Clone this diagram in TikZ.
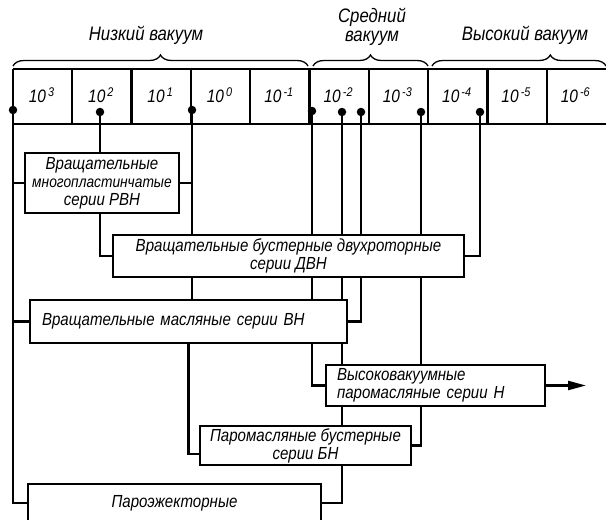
\documentclass[tikz,border=0pt]{standalone}
\usepackage{fontspec}
\setmainfont{Liberation Sans}[FakeStretch=0.86]
\usepackage{tikz}
\usetikzlibrary{positioning}
\usetikzlibrary{arrows.meta}
\usetikzlibrary{decorations.pathreplacing}

\tikzset{
  box/.style={draw, line width=2pt, inner sep=0pt, align=center,
    font=\fontsize{17.5}{18}\selectfont\itshape},
  head/.style={font=\fontsize{19.5}{18.5}\selectfont\itshape, inner sep=0pt},
  scalelbl/.style={font=\fontsize{18}{18}\selectfont\itshape, inner sep=0pt},
  dot/.style={circle, fill, inner sep=0pt, minimum size=8.5pt},
  link/.style={line width=2.3pt},
  vbrace/.style={line width=1.3pt, decorate, decoration={brace, amplitude=11pt}}
}

\begin{document}
\begin{tikzpicture}[x=1pt, y=-1pt]
          \useasboundingbox (0,0) rectangle (606,520);
          \node[head] (low) at (146,35) {Низкий вакуум};
          \node[head, align=center] (mid) at (372,27) {Средний\\вакуум};
          \node[head] (high) at (525,35) {Высокий вакуум};
          \draw[vbrace] (13,66) -- (308,66);
          \draw[vbrace] (313,66) -- (428,66);
          \draw[vbrace, decoration={aspect=0.68}] (432,66) -- (606,66);
          \draw[link] (13,69) -- (606,69) (13,124) -- (606,124);
          \foreach \k in {0,...,9}
            \draw[link] (13+59.3*\k,69) -- (13+59.3*\k,124);
          \foreach \e [count=\i] in {3,2,1,0,-1,-2,-3,-4,-5,-6}
            \node[scalelbl] (c\i) at (13+59.3*\i-30.5,95) {10\textsuperscript{\,\e}};
          \node[dot] (p1) at (13,110){};
          \node[dot] (p2) at (100,112){};
          \node[dot] (p3) at (192,110){};
          \node[dot] (p4) at (312,111){};
          \node[dot] (p5) at (342,112){};
          \node[dot] (p6) at (361,112){};
          \node[dot] (p7) at (421,112){};
          \node[dot] (p8) at (480,112){};
          \node[box, minimum width=154pt, minimum height=60pt] (rvn) at (102,183)
            {Вращательные\\{\fontsize{16}{17}\selectfont многопластинчатые}\\серии РВН};
          \node[box, minimum width=351pt, minimum height=42pt] (dvn) at (288.5,256)
            {Вращательные бустерные двухроторные\\серии ДВН};
          \node[box, text width=293pt, inner xsep=12pt, minimum height=43pt, align=left] (vn) at (188.5,321.5)
            {Вращательные масляные серии ВН};
          \node[box, text width=197pt, inner xsep=11pt, minimum height=41pt, align=left] (hn) at (435.5,385.5)
            {Высоковакуумные\\паромасляные серии Н};
          \node[box, minimum width=211pt, minimum height=39pt] (bn) at (305.5,445.5)
            {Паромасляные бустерные\\серии БН};
          \node[box, minimum width=293pt, minimum height=38pt] (pe) at (174.5,503) {Пароэжекторные};
          \coordinate (bnin) at ([yshift=-8.5pt]bn.west);
          \coordinate (out) at (586,385.5);
          \draw[link](p1) -- (p1 |- pe.west) -- (pe.west);
          \draw[link](p1 |- rvn.west) -- (rvn.west);
          \draw[link](p1 |- vn.west) -- (vn.west);
          \draw[link](p2) -- (p2 |- rvn.north);
          \draw[link](rvn.south -| p2) -- (p2 |- dvn.west) -- (dvn.west);
          \draw[link](p3) -- (p3 |- dvn.north);
          \draw[link](p3 |- rvn.east) -- (rvn.east);
          \draw[link](dvn.south -| p3) -- (vn.north -| p3);
          \foreach \p in {p4,p5,p6,p7}
            \draw[link](\p) -- (\p |- dvn.north);
          \draw[link](p8) -- (p8 |- dvn.east) -- (dvn.east);
          \draw[link](dvn.south -| p4) -- (vn.north -| p4);
          \draw[link](dvn.south -| p5) -- (vn.north -| p5);
          \draw[link](dvn.south -| p6) -- (p6 |- vn.east) -- (vn.east);
          \draw[link](dvn.south -| p7) -- (hn.north -| p7);
          \draw[link](vn.south) -- (vn.south |- bnin) -- (bnin);
          \draw[link](vn.south -| p4) -- (p4 |- hn.west) -- (hn.west);
          \draw[link](vn.south -| p5) -- (hn.north -| p5);
          \draw[link](hn.south -| p5) -- (bn.north -| p5);
          \draw[link](hn.south -| p7) -- (p7 |- bn.east) -- (bn.east);
          \draw[link](bn.south -| p5) -- (p5 |- pe.east) -- (pe.east);
          \draw[link, -{Triangle[length=18pt,width=9pt]}](hn.east) -- (out);
        \end{tikzpicture}
\end{document}
